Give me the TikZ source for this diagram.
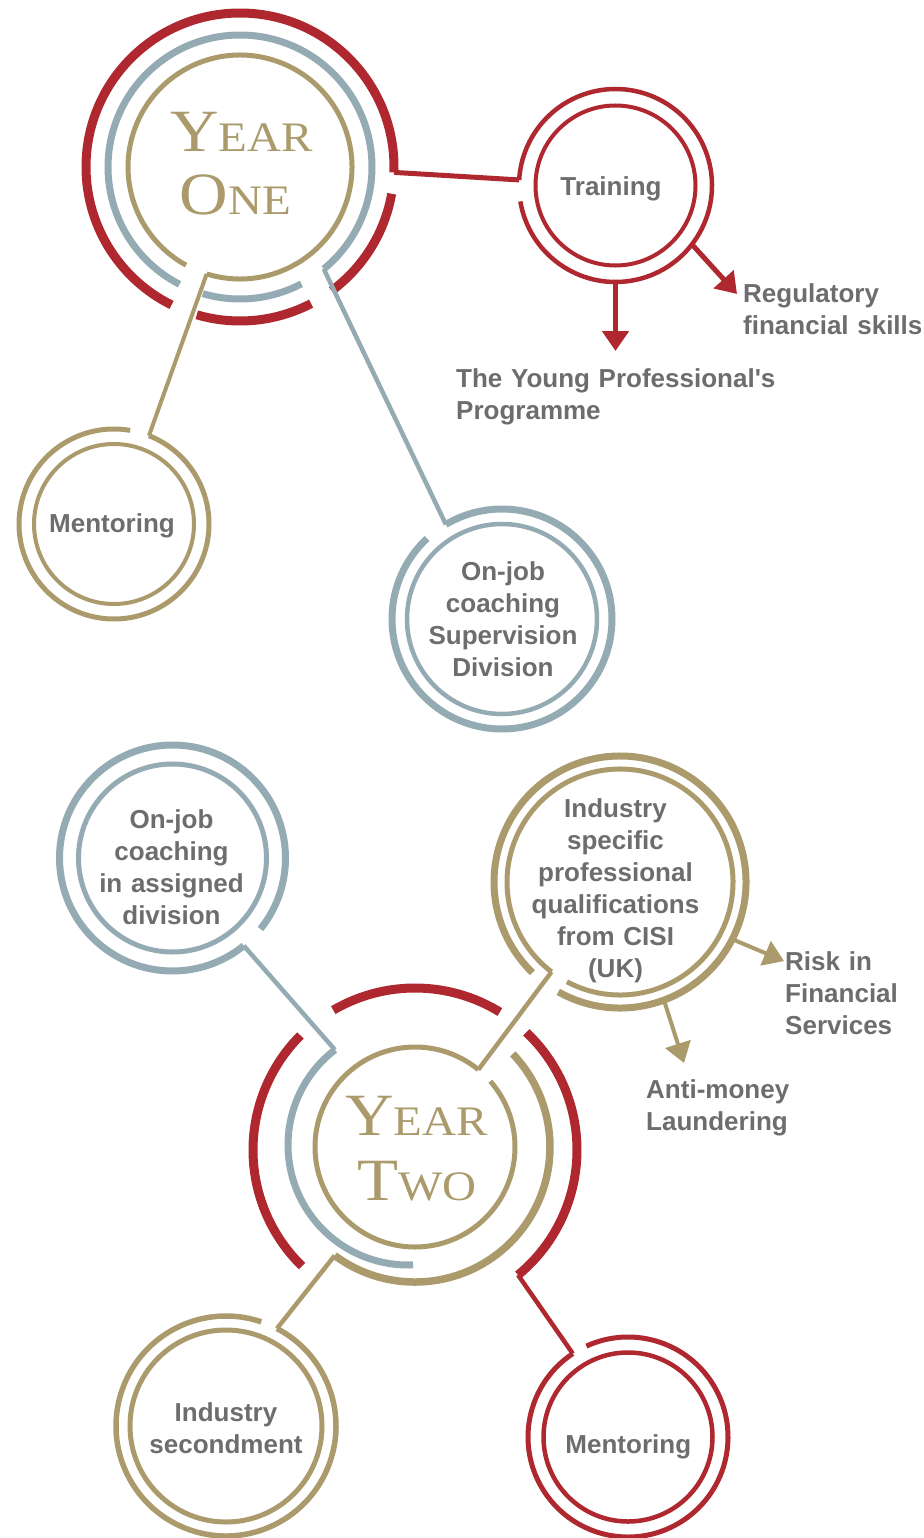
\documentclass[tikz,border=0pt]{standalone}
\usepackage{fontspec}
\setmainfont{Liberation Sans}
\newfontfamily\lblfont{Liberation Sans}
\newfontfamily\yrfont[FakeStretch=1.12]{Liberation Serif}
\usetikzlibrary{arrows.meta,calc}
\definecolor{ared}{RGB}{175,40,47}
\definecolor{agold}{RGB}{171,154,107}
\definecolor{ablue}{RGB}{148,171,180}
\definecolor{atext}{RGB}{108,109,111}
\newcommand\ringarc[5]{\draw[#5] (#1) ++(#2:#4) arc[start angle=#2, end angle=#3, radius=#4];}
\newcommand\ringfull[3]{\draw[#3] (#1) circle[radius=#2];}
\newcommand\yrword[2]{{\fontsize{60}{60}\selectfont #1}{\fontsize{42}{42}\selectfont #2}}
\hyphenpenalty=10000
\exhyphenpenalty=10000
\begin{document}
\begin{tikzpicture}[x=1pt,y=1pt,
  lbl/.style={font=\lblfont\bfseries\fontsize{26}{32}\selectfont, text=atext, inner sep=0pt, align=center, text width=420pt, anchor=base},
  lbll/.style={lbl, align=left, anchor=base west},
  yr/.style={font=\yrfont, text=agold, inner sep=0pt, anchor=base},
  rd/.style={draw=ared, line width=#1},
  gd/.style={draw=agold, line width=#1},
  bl/.style={draw=ablue, line width=#1},
  arr/.style={-{Triangle[width=26pt,length=20pt]}},
]
\useasboundingbox (0,0) rectangle (923,-1538);
\fill[white] (0,0) rectangle (923,-1538);

% centres
\coordinate (Y1) at (240,-167);
\coordinate (T) at (615.5,-185.5);
\coordinate (M1) at (114,-524);
\coordinate (OJ1) at (502,-619);
\coordinate (OJ2) at (172.5,-858);
\coordinate (ISP) at (620,-882);
\coordinate (Y2) at (415,-1147);
\coordinate (Y2r) at (415,-1150);
\coordinate (Y2b) at (408,-1145);
\coordinate (IS) at (226,-1426);
\coordinate (M2) at (628,-1437);

% ---------- Year One rings
\ringarc{Y1}{-2}{243.6}{154}{rd=9pt}
\ringarc{Y1}{253.7}{297.5}{154}{rd=9pt}
\ringarc{Y1}{306.5}{350}{154}{rd=9pt}
\ringarc{Y1}{309.4}{602.7}{132}{bl=7pt}
\ringarc{Y1}{253.6}{297.7}{132}{bl=7pt}
\ringarc{Y1}{252.7}{601.2}{112}{gd=5pt}

% Training
\ringarc{T}{189.5}{536.7}{96.5}{rd=4.5pt}
\ringfull{T}{80}{rd=4pt}
% Mentoring 1
\ringarc{M1}{80.2}{428.4}{95}{gd=5pt}
\ringfull{M1}{80}{gd=4pt}
% On-job coaching supervision
\ringarc{OJ1}{132.9}{480.7}{110}{bl=7pt}
\ringfull{OJ1}{95}{bl=4.5pt}

% ---------- Year Two rings
\ringarc{Y2r}{58.4}{120.3}{162}{rd=9pt}
\ringarc{Y2r}{135}{225.8}{162}{rd=9pt}
\ringarc{Y2r}{-50.5}{46.6}{162}{rd=9pt}
\ringarc{Y2}{233.5}{403.6}{135}{gd=7.5pt}
\ringarc{Y2b}{127.5}{272.4}{120}{bl=7pt}
\ringarc{Y2}{50.7}{401.1}{100}{gd=5pt}

% On-job coaching assigned
\ringarc{OJ2}{-38.9}{309.1}{113}{bl=7pt}
\ringfull{OJ2}{94}{bl=5pt}
% Industry specific
\ringarc{ISP}{240.7}{586}{126}{gd=7pt}
\ringarc{ISP}{242}{592.7}{113}{gd=5pt}
% Industry secondment
\ringarc{IS}{71.3}{422.4}{110}{gd=5.5pt}
\ringfull{IS}{96}{gd=5pt}
% Mentoring 2
\ringarc{M2}{123.5}{474.6}{100}{rd=5pt}
\ringfull{M2}{84.5}{rd=4.5pt}

% ---------- connector end points
\coordinate (y1-red) at ($(Y1)+(-2:154)$);
\coordinate (t-in) at ($(T)+(176.7:96.5)$);
\coordinate (y1-gold) at ($(Y1)+(252.7:112)$);
\coordinate (m1-in) at ($(M1)+(68.4:95)$);
\coordinate (y1-blue) at ($(Y1)+(309.4:132)$);
\coordinate (oj1-in) at ($(OJ1)+(120.7:110)$);
\coordinate (t-out1) at ($(T)+(270:96.5)$);
\coordinate (t-out2) at ($(T)+(-37.6:96.5)$);
\coordinate (t-tip1) at (615.5,-351);
\coordinate (t-tip2) at (737,-294);

\coordinate (y2-gold) at ($(Y2)+(50.7:100)$);
\coordinate (isp-in) at ($(ISP)+(232.7:113)$);
\coordinate (y2-blue) at ($(Y2b)+(127.5:120)$);
\coordinate (oj2-in) at ($(OJ2)+(309.1:113)$);
\coordinate (y2-gold2) at ($(Y2)+(233.5:135)$);
\coordinate (is-in) at ($(IS)+(62.4:110)$);
\coordinate (y2-red) at ($(Y2r)+(-50.5:162)$);
\coordinate (m2-in) at ($(M2)+(123.5:100)$);
\coordinate (isp-out1) at ($(ISP)+(-27:126)$);
\coordinate (isp-out2) at ($(ISP)+(-69.6:126)$);
\coordinate (isp-tip1) at (784,-961);
\coordinate (isp-tip2) at (684,-1063);

% ---------- connectors
\draw[rd=5pt] (y1-red) -- (t-in);
\draw[gd=4pt] (y1-gold) -- (m1-in);
\draw[bl=4.5pt] (y1-blue) -- (oj1-in);
\draw[rd=5pt, arr, fill=ared] (t-out1) -- (t-tip1);
\draw[rd=5pt, arr, fill=ared] (t-out2) -- (t-tip2);

\draw[gd=4.5pt] (y2-gold) -- (isp-in);
\draw[bl=4.5pt] (y2-blue) -- (oj2-in);
\draw[gd=4.5pt] (y2-gold2) -- (is-in);
\draw[rd=4.5pt] (y2-red) -- (m2-in);
\draw[gd=4pt, arr, fill=agold] (isp-out1) -- (isp-tip1);
\draw[gd=4pt, arr, fill=agold] (isp-out2) -- (isp-tip2);

% ---------- texts
\node[yr] (y1a) at (241.5,-151.7) {\yrword{Y}{EAR}};
\node[yr] (y1b) at (235.5,-215) {\yrword{O}{NE}};
\node[yr] (y2a) at (416.7,-1135) {\yrword{Y}{EAR}};
\node[yr] (y2b) at (417,-1200) {\yrword{T}{WO}};

\node[lbl] (lt) at (611,-196) {Training};
\node[lbll] (lreg) at (743,-302.5) {Regulatory\\financial skills};
\node[lbll] (lyp) at (456,-387.5) {The Young Professional's\\Programme};
\node[lbl] (lm1) at (112,-532.7) {Mentoring};
\node[lbl] (loj1) at (503,-580) {On-job\\coaching\\Supervision\\Division};
\node[lbl] (loj2) at (171.5,-828.3) {On-job\\coaching\\in assigned\\division};
\node[lbl] (lisp) at (615.5,-817.3) {Industry\\specific\\professional\\qualifications\\from CISI\\(UK)};
\node[lbll] (lrisk) at (785,-970) {Risk in\\Financial\\Services};
\node[lbll] (laml) at (646,-1098.5) {Anti-money\\Laundering};
\node[lbl] (lis) at (226,-1421.7) {Industry\\secondment};
\node[lbl] (lm2) at (628.3,-1453.3) {Mentoring};
\end{tikzpicture}
\end{document}
